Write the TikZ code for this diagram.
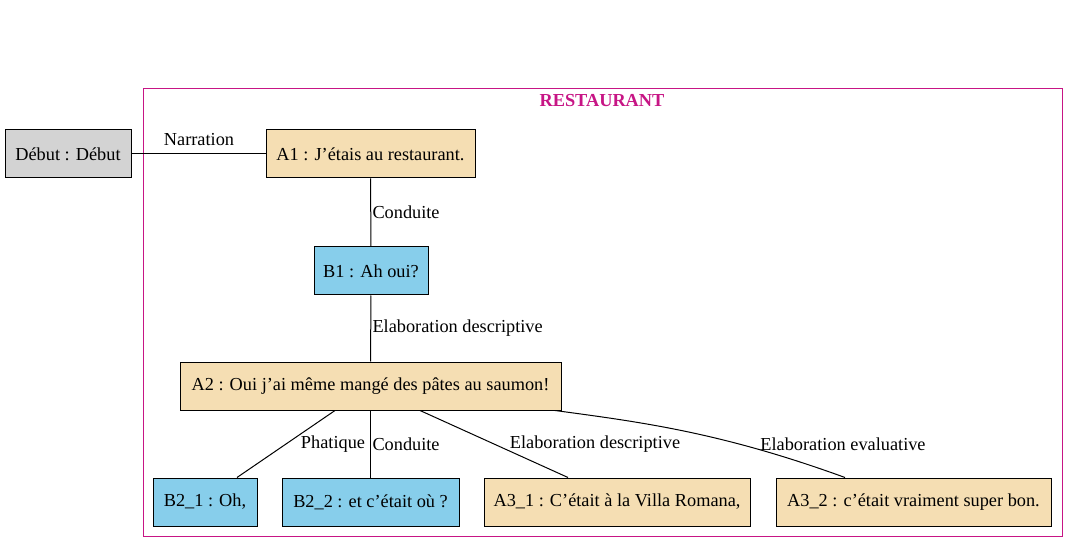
\documentclass[tikz,border=0pt]{standalone}
\usepackage{fontspec}
\setmainfont{Liberation Serif}
\definecolor{wheat}{HTML}{F5DEB3}
\definecolor{skyblue}{HTML}{87CEEB}
\definecolor{lgray}{HTML}{D3D3D3}
\definecolor{violetred}{HTML}{C71585}
\tikzset{
  unit/.style={draw, rectangle, inner sep=0pt, minimum height=48pt, font=\fontsize{18.3}{20}\selectfont},
  speakA/.style={unit, fill=wheat},
  speakB/.style={unit, fill=skyblue},
  rel/.style={font=\fontsize{18.3}{20}\selectfont, inner sep=0pt},
}
\begin{document}
\begin{tikzpicture}[x=1pt, y=-1pt, line width=1pt]
    \useasboundingbox (0,0) rectangle (1079,553);
    % cluster
    \draw[violetred] (143,89) rectangle (1062,536);
    \node[rel, text=violetred, font=\fontsize{18.3}{20}\selectfont\bfseries] at (602,101) (title) {RESTAURANT};
    % start node
    \node[unit, fill=lgray, minimum width=126pt] at (68,154) (debut) {Début : Début};
    % discourse units
    \node[speakA, minimum width=209pt] at (370.5,154) (a1) {A1 : J’étais au restaurant.};
    \node[speakB, minimum width=114pt] at (371,271) (b1) {B1 : Ah oui?};
    \node[speakA, minimum width=381pt] at (370.5,386) (a2) {A2 : Oui j’ai même mangé des pâtes au saumon!};
    \node[speakB, minimum width=104pt] at (205,502) (b21) {B2\_1 : Oh,};
    \node[speakB, minimum width=177pt] at (370.5,502) (b22) {B2\_2 : et c’était où ?};
    \node[speakA, minimum width=266pt] at (617,502) (a31) {A3\_1 : C’était à la Villa Romana,};
    \node[speakA, minimum width=275pt] at (913.5,502) (a32) {A3\_2 : c’était vraiment super bon.};

    % relations
    \draw (debut) -- (a1);
    \node[rel] at (199,140) (l1) {Narration};
    \draw (a1) -- (b1);
    \node[rel, anchor=west] at (372,212) (l2) {Conduite};
    \draw (b1) -- (a2);
    \node[rel, anchor=west] at (372,328) (l3) {Elaboration descriptive};
    \draw (a2.south -| 335,0) -- (b21.north -| 237,0);
    \node[rel] at (333,444) (l4) {Phatique};
    \draw (a2.south -| b22) -- (b22);
    \node[rel, anchor=west] at (372,444) (l5) {Conduite};
    \draw (a2.south -| 420,0) -- (a31.north -| 568,0);
    \node[rel] at (595,444) (l6) {Elaboration descriptive};
    \draw (a2.south -| 555,0) .. controls (640,422) and (720,432) .. (a32.north -| 845,0);
    \node[rel] at (843,444) (l7) {Elaboration evaluative};
\end{tikzpicture}
\end{document}
